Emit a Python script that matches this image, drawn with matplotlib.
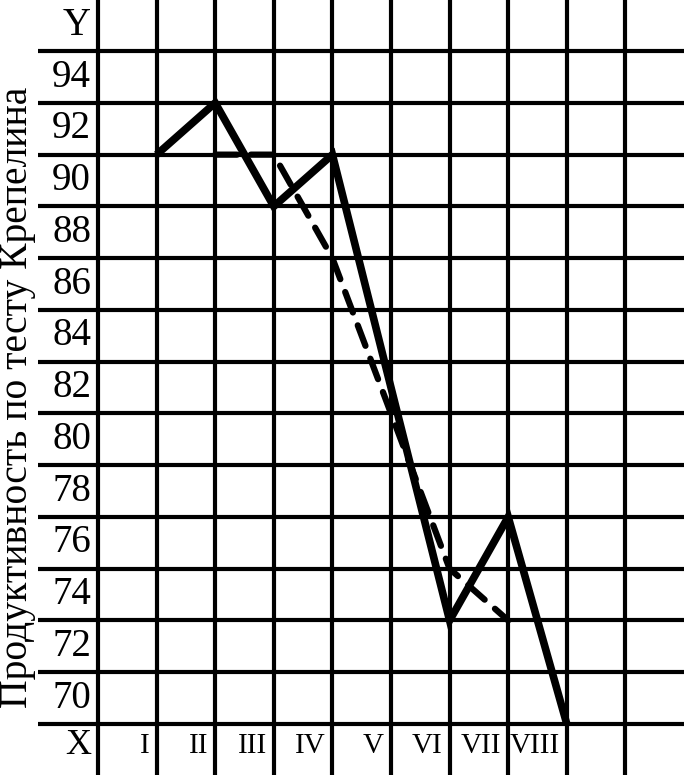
import matplotlib
matplotlib.use("Agg")
import matplotlib.pyplot as plt
import numpy as np

# Data
stages = ["I", "II", "III", "IV", "V", "VI", "VII", "VIII"]
stage_pos = [1, 2, 3, 4, 5, 6, 7, 8]
solid_vals = [92, 94, 90, 92, 83, 74, 78, 70]
dashed_pos = [2, 3, 4, 5, 6, 7]
dashed_vals = [92, 92, 88, 82, 76, 74]
y_ticks = [70, 72, 74, 76, 78, 80, 82, 84, 86, 88, 90, 92, 94]
y_label = "Продуктивность по тесту Крепелина"

W, H = 684, 779
fig = plt.figure(figsize=(W / 100, H / 100), dpi=100)
ax = fig.add_axes([0, 0, 1, 1])

# pixel mapping helpers (layout only)
x0px, dxpx = 98.0, 58.6
y70px, dypx = 724.0, 25.88

def px2x(px):
    return (px - x0px) / dxpx

def px2y(py):
    return 70 + (y70px - py) / dypx

ax.set_xlim(px2x(0), px2x(W))
ax.set_ylim(px2y(H), px2y(0))
ax.axis("off")

fam = ["Liberation Serif", "DejaVu Serif"]

# grid
hl = list(range(70, 97, 2))
ax.hlines(hl, px2x(38), px2x(W), colors="black", lw=3.0, zorder=1)
ax.vlines(list(range(0, 10)), px2y(775), px2y(0), colors="black", lw=3.0, zorder=1)

# series
ax.plot(stage_pos, solid_vals, color="black", lw=5.5, solid_joinstyle="miter",
        solid_capstyle="butt", zorder=3)
ax.plot(dashed_pos, dashed_vals, color="black", lw=4.5, dashes=(3.5, 2.2),
        dash_capstyle="round", zorder=2)

# y tick labels (placed in cells)
for v in y_ticks:
    ax.text(px2x(91), v + 1, str(v), ha="right", va="center", fontsize=28,
            family=fam)
ax.text(px2x(91), 97.0, "Y", ha="right", va="center", fontsize=28, family=fam)
ax.text(px2x(91), px2y(745), "X", ha="right", va="center", fontsize=26, family=fam)

# x labels
for p, s in zip(stage_pos, stages):
    ax.text(p - 7 / dxpx, px2y(746), s, ha="right", va="center", fontsize=21,
            family=fam)

ax.text(px2x(18), px2y(397), y_label, rotation=90, ha="center", va="center",
        fontsize=28.5, family=fam)

fig.savefig("out.png", dpi=100)
